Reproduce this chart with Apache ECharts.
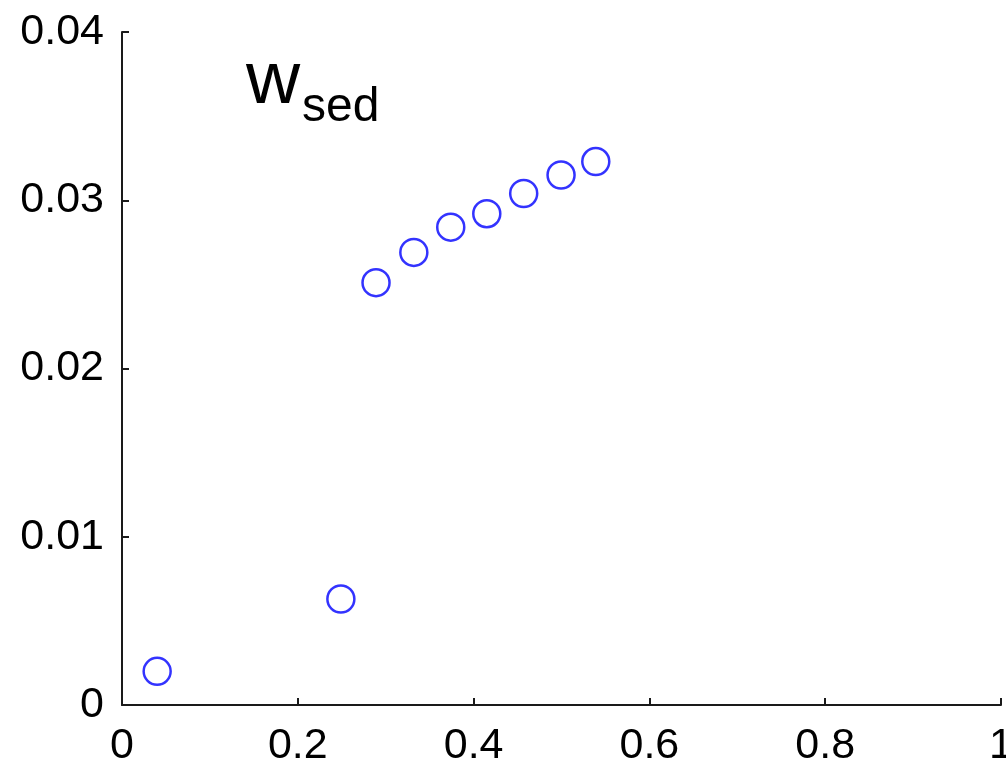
<!DOCTYPE html>
<html>
<head>
    <meta charset="utf-8"/>
    <title>w_sed</title>
    <script src="https://cdn.jsdelivr.net/npm/echarts@6/dist/echarts.min.js"></script>
    <style>
        html, body { margin: 0; padding: 0; background: #fff; }
        #chart { width: 1006px; height: 761px; }
    </style>
</head>
<body>
<div id="chart"></div>
<script>
    // 数据点
    var xVals = [0.040, 0.249, 0.289, 0.332, 0.374, 0.415, 0.457, 0.4995, 0.539];
    var yVals = [0.0020, 0.0063, 0.0251, 0.0269, 0.0284, 0.0292, 0.0304, 0.0315, 0.0323];

    var points = [];
    for (let i = 0; i < xVals.length; i++) {
        points.push([xVals[i], yVals[i]]);
    }

    var font = 'Liberation Sans, Arial, Helvetica, sans-serif';
    var myChart = echarts.init(document.getElementById('chart'));
    var option = {
        animation: false,
        grid: { left: 122, right: 5, top: 32, bottom: 56, containLabel: false, outerBoundsMode: 'none' },
        graphic: [
            { type: 'text', left: 246, top: 45, style: { text: 'w', font: '75px ' + font, fill: '#000' } },
            { type: 'text', left: 302, top: 84, style: { text: 'sed', font: '48px ' + font, fill: '#000' } }
        ],
        xAxis: {
            type: 'value', min: 0, max: 1, interval: 0.2,
            splitLine: { show: false },
            axisLine: { show: true, lineStyle: { color: '#1a1a1a', width: 2 } },
            axisTick: { show: true, inside: true, length: 7, lineStyle: { color: '#1a1a1a', width: 2 } },
            axisLabel: { color: '#000', fontSize: 43, fontFamily: font, margin: 20, showMaxLabel: true,
                formatter: function (v) { return String(+v.toFixed(1)); } }
        },
        yAxis: {
            type: 'value', min: 0, max: 0.04, interval: 0.01,
            splitLine: { show: false },
            axisLine: { show: true, lineStyle: { color: '#1a1a1a', width: 2 } },
            axisTick: { show: true, inside: true, length: 7, lineStyle: { color: '#1a1a1a', width: 2 } },
            axisLabel: { color: '#000', fontSize: 43, fontFamily: font, margin: 18,
                formatter: function (v) { return String(+v.toFixed(2)); } }
        },
        series: [{
            type: 'scatter',
            data: points,
            symbol: 'circle',
            symbolSize: 27,
            itemStyle: { color: 'transparent', borderColor: '#0000ff', borderWidth: 2.5 }
        }]
    };
    myChart.setOption(option);
</script>
</body>
</html>
